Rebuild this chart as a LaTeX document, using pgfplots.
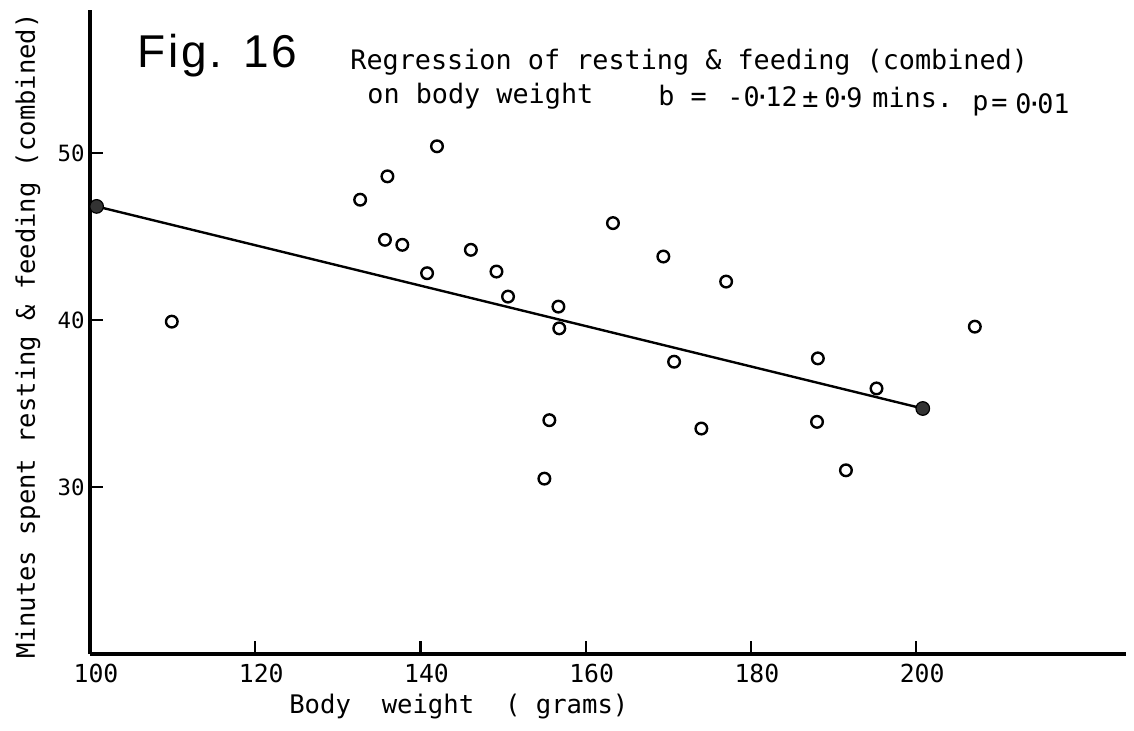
\documentclass[border=0pt]{standalone}
\usepackage{fontspec}
\usepackage{pgfplots}
\pgfplotsset{compat=1.18}
\newfontfamily\lettering{DejaVu Sans Mono}
\newfontfamily\figfont[LetterSpace=6]{Liberation Sans}
\newcommand\lt{\lettering\fontsize{13.4}{14}\selectfont}
\newcommand\md{{\kern-2.6pt·\kern-2.6pt}}
\begin{document}
\begin{tikzpicture}
\begin{axis}[
  scale only axis, width=518pt, height=322pt,
  xmin=100, xmax=225.4, ymin=20, ymax=58.56,
  axis x line=bottom, axis y line=left,
  axis line style={-, line width=1.8pt},
  xtick={100,120,...,200}, ytick={30,40,50},
  tick align=inside, major tick length=6.5pt,
  tick style={line width=1.1pt, black},
  /pgf/number format/assume math mode=true,
  xticklabel style={font=\lettering\fontsize{12.4}{13}\selectfont, anchor=center, inner sep=0pt, yshift=-9.5pt, xshift=3pt},
  yticklabel style={font=\lettering\fontsize{11.2}{12}\selectfont, anchor=east, inner sep=0pt, xshift=-2.5pt},
  xlabel={Body~~weight~~(~grams)},
  every axis x label/.style={at={(axis description cs:0.356,-0.0823)}, anchor=center, font=\lettering\fontsize{12.8}{13}\selectfont},
  ylabel={Minutes spent resting \& feeding (combined)},
  every axis y label/.style={at={(axis description cs:-0.0598,0.494)}, rotate=90, anchor=center, font=\lettering\fontsize{12.75}{13}\selectfont},
  clip=false,
]
\addplot[line width=1.2pt, black] coordinates {(100.8,46.8) (200.8,34.7)};
\addplot[only marks, mark=o, mark size=2.9pt, mark options={line width=1.2pt, black}] coordinates {
(109.9,39.9) (132.7,47.2) (136.0,48.6) (142.0,50.4) (135.7,44.8) (137.8,44.5)
(140.8,42.8) (146.1,44.2) (149.2,42.9) (150.6,41.4) (156.7,40.8) (156.8,39.5)
(155.6,34.0) (155.0,30.5) (163.3,45.8) (169.4,43.8) (170.7,37.5) (174.0,33.5)
(177.0,42.3) (188.1,37.7) (188.0,33.9) (191.5,31.0) (195.2,35.9) (207.1,39.6)
};
\addplot[only marks, mark=*, mark size=3.4pt, mark options={fill=black!80, draw=black, line width=0.6pt}] coordinates {(100.8,46.8) (200.8,34.7)};
\end{axis}
\node[anchor=base west, inner sep=0pt, font=\figfont\fontsize{23}{24}\selectfont] at (23.5pt,293.5pt) {Fig. 16};
\node[anchor=base west, inner sep=0pt, font=\lt] at (130pt,292pt) {Regression of resting \& feeding (combined)};
\node[anchor=base west, inner sep=0pt, font=\lt] at (138.5pt,275.5pt) {on body weight};
\node[anchor=base west, inner sep=0pt, font=\lt] at (284pt,274.5pt) {b =};
\node[anchor=base west, inner sep=0pt, font=\lt] at (318.5pt,274pt) {-0\md12};
\node[anchor=base west, inner sep=0pt, font=\lt] at (356pt,273.5pt) {±};
\node[anchor=base west, inner sep=0pt, font=\lt] at (367pt,273.5pt) {0\md9};
\node[anchor=base west, inner sep=0pt, font=\lt] at (391pt,273pt) {mins.};
\node[anchor=base west, inner sep=0pt, font=\lt] at (441pt,272pt) {p};
\node[anchor=base west, inner sep=0pt, font=\lt] at (450.5pt,271.5pt) {=};
\node[anchor=base west, inner sep=0pt, font=\lt] at (462.5pt,270.5pt) {0\md01};
\pgfresetboundingbox
\path[use as bounding box] (-45pt,-38pt) rectangle (522pt,327pt);
\end{tikzpicture}
\end{document}
